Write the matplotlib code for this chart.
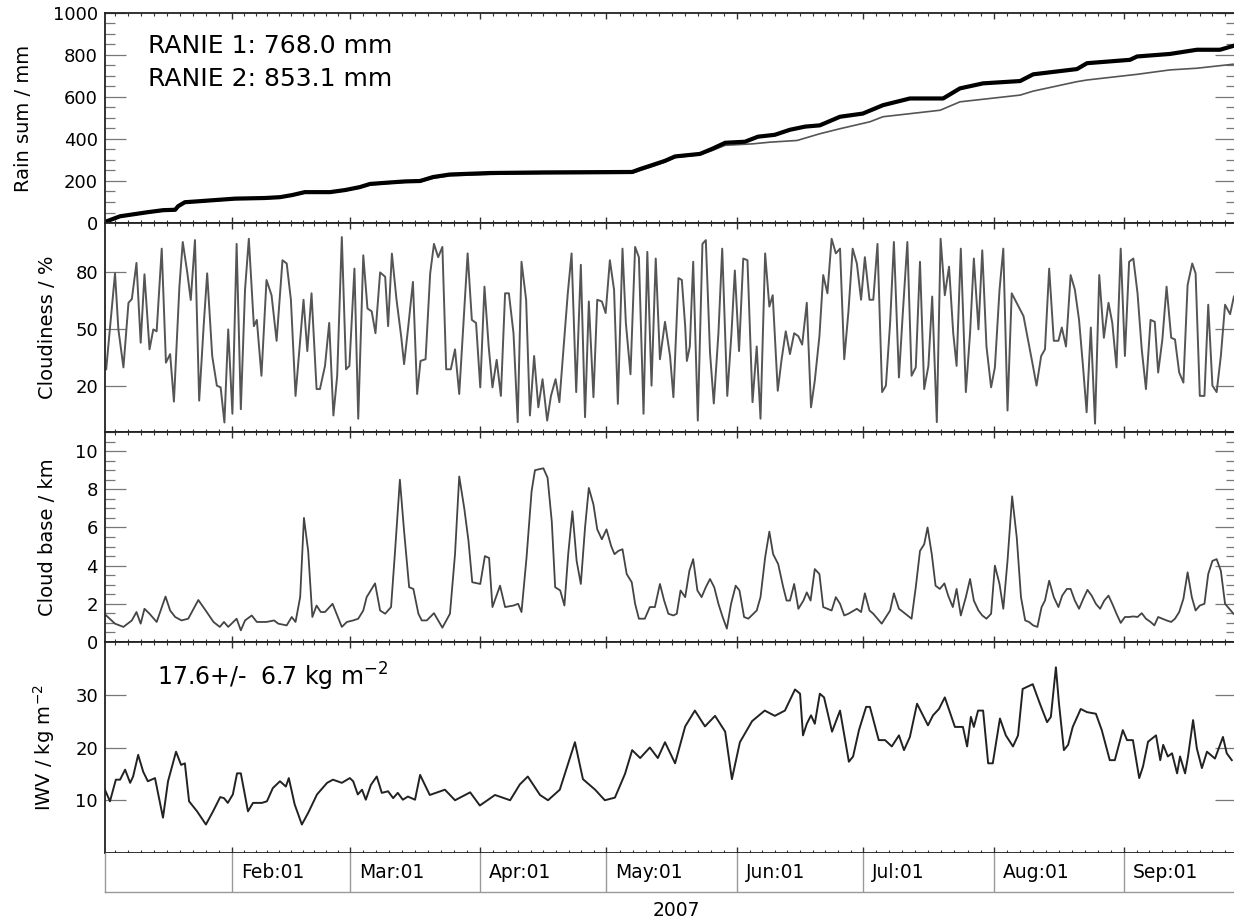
import numpy as np
import matplotlib
matplotlib.use('Agg')
from matplotlib import pyplot as plt
from matplotlib.ticker import MultipleLocator, FixedLocator, NullFormatter

# x positions are days since 2007-01-01 00:00
month_starts = [0, 31, 59, 90, 120, 151, 181, 212, 243, 273]
month_labels = ['Feb:01', 'Mar:01', 'Apr:01', 'May:01', 'Jun:01', 'Jul:01', 'Aug:01', 'Sep:01']
x_range = (0.82, 269.6)

# cumulative rain of the two gauges
rain1_days = [0.8, 4.4, 10.8, 14.6, 17.5, 18.2, 19.8, 23.4, 31.7, 38.8,
              42.4, 45.3, 48.3, 54.3, 57.9, 61.4, 63.8, 68.5, 72.1, 75.7,
              78.8, 82.8, 92.3, 105.4, 126.1, 128.0, 130.3, 133.9, 136.3, 142.2,
              145.1, 148.2, 154.8, 158.9, 165.3, 170.7, 175.5, 182.6, 185.7, 199.3,
              204.0, 218.3, 221.4, 231.8, 234.2, 246.1, 253.9, 260.3, 268.9]
rain1_sum = [5, 30, 48, 58, 60, 77, 96, 101, 113, 116,
             120, 130, 143, 144, 154, 167, 182, 189, 194, 196,
             213, 225, 232, 235, 237, 250, 265, 290, 312, 325,
             345, 370, 377, 385, 393, 425, 449, 482, 506, 537,
             577, 609, 628, 673, 681, 708, 729, 737, 756]
rain2_days = [0.8, 4.4, 10.8, 14.6, 17.5, 18.2, 19.8, 23.4, 31.7, 38.8,
              42.4, 45.3, 48.3, 54.3, 57.9, 61.4, 63.8, 68.5, 72.1, 75.7,
              78.8, 82.8, 92.3, 105.4, 126.1, 128.0, 130.3, 133.9, 136.3, 142.2,
              145.1, 148.2, 152.9, 156.0, 160.0, 163.6, 167.2, 170.7, 175.5, 180.9,
              185.7, 192.1, 200.0, 204.0, 209.5, 218.3, 221.4, 231.8, 234.2, 244.4,
              246.1, 253.9, 260.3, 265.8, 268.9]
rain2_sum = [5, 32, 51, 61, 63, 80, 99, 104, 116, 119,
             123, 133, 147, 147, 157, 171, 186, 193, 198, 200,
             219, 231, 238, 241, 243, 257, 272, 296, 317, 329,
             353, 382, 387, 411, 420, 444, 459, 465, 506, 521,
             561, 593, 593, 641, 665, 676, 708, 733, 761, 777,
             793, 805, 825, 825, 843]
rain_totals = [768.0, 853.1]

# daily cloudiness
cloud_days = [1.1, 3.2, 4.0, 5.2, 6.4, 7.2, 8.3, 9.3, 10.2, 11.4,
              12.3, 13.1, 14.3, 15.3, 16.3, 17.2, 18.5, 19.3, 20.4, 21.2,
              22.2, 23.2, 24.3, 25.1, 26.3, 27.4, 28.3, 29.2, 30.1, 31.1,
              32.1, 33.1, 34.1, 35.0, 36.2, 36.9, 38.0, 39.2, 40.4, 41.6,
              43.0, 44.0, 45.0, 46.1, 48.0, 48.9, 49.9, 51.1, 51.9, 53.1,
              54.1, 55.1, 56.0, 57.1, 58.1, 58.9, 60.1, 61.0, 62.2, 63.2,
              64.2, 65.1, 66.2, 67.4, 68.1,
              69.0, 70.1, 71.2, 71.9, 72.9, 74.0, 75.0, 75.8, 77.0, 78.1,
              79.0, 80.0, 81.0, 81.9, 83.0, 84.0, 85.0, 86.0, 87.0, 88.0,
              89.0, 90.0, 91.0, 92.0, 92.9, 93.9, 94.9, 95.9, 96.8, 97.9,
              98.9, 99.8, 100.9, 101.8, 102.8, 103.8, 104.8, 105.9, 106.8, 107.9,
              108.8, 109.7, 110.8, 111.7, 112.8, 113.9, 114.9, 115.8, 116.9, 117.8,
              118.9, 119.8, 120.8, 121.8, 122.7, 123.8, 124.6, 125.7, 126.8, 127.7,
              128.8, 129.7, 130.7, 131.7, 132.7, 133.9, 135.1,
              135.9, 137.1, 137.9, 138.7, 139.1, 139.8, 140.6, 141.7, 142.8, 143.6,
              144.6, 145.5, 146.6, 147.5, 148.7, 149.7, 150.5, 151.5, 152.5, 153.5,
              154.7, 155.7, 156.6, 157.7, 158.7, 159.5, 160.7, 161.6, 162.6, 163.6,
              164.6, 165.6, 166.5, 167.6, 168.6, 169.5, 170.6, 171.5, 172.5, 173.5,
              174.5, 175.5, 176.5, 177.5, 178.5, 179.5, 180.5, 181.4, 182.5, 183.4,
              184.4, 185.5, 186.4, 187.4, 188.3, 189.5, 190.4, 191.5, 192.5, 193.5,
              194.5, 195.5, 196.5, 197.4, 198.5, 199.4, 200.4, 201.4, 202.4,
              203.2, 204.2, 205.4, 206.4, 207.3, 208.4, 209.3, 210.3, 211.4, 212.3,
              213.4, 214.3, 215.3, 216.3, 219.1, 221.2, 222.2, 223.3, 224.2, 225.2,
              226.3, 227.4, 228.2, 229.2, 230.3, 231.3, 232.3, 233.3, 234.1, 235.1,
              236.1, 237.1, 238.2, 239.3, 240.2, 241.2, 242.2, 243.2, 244.2, 245.2,
              246.2, 247.2, 248.2, 249.3, 250.3, 251.1, 252.1, 253.1, 254.2, 255.1,
              256.1, 257.1, 258.1, 259.2, 260.0, 261.0, 262.1, 263.0, 264.0, 265.0,
              266.0, 267.0, 268.2, 269.1]
cloudiness = [29, 79.5, 50, 30, 64, 66, 85, 43, 79, 39.5,
              50, 49, 92.5, 32.5, 37, 12, 72.5, 96, 79.5, 65.5,
              97, 12.5, 53, 79.5, 36, 20.4, 19.5, 1, 50, 5.6,
              95, 8, 71, 97.7, 51.7, 55, 25.6, 76, 68, 44,
              86.4, 84.7, 65.6, 15, 65.6, 38.6, 69, 18.6, 18.6, 30.8,
              53.4, 4.7, 25.6, 98.6, 29, 30.8, 82, 3, 89, 61,
              59.5, 48, 80, 77.7, 51.7,
              89.9, 65.6, 46.4, 31.7, 51.7, 75, 16, 33.4, 34.3, 79.5,
              95, 88, 93.4, 29, 29, 39.5, 16, 53.4, 90, 55,
              53.4, 19.5, 72.5, 41, 19.5, 34, 15, 69, 69, 48,
              1.2, 85.6, 65.6, 4.7, 36, 9, 23.8, 2, 15, 23.8,
              11.7, 37.7, 69, 90, 17, 84, 3.8, 64.7, 14.3, 65.6,
              64.7, 58.6, 86.4, 70.8, 10.8, 92.5, 53.4, 26.4, 93.4, 88,
              5.6, 90.8, 20.4, 87.3, 34.3, 54, 36,
              14.3, 77, 76, 51.7, 33.4, 41, 85.6, 2, 95, 97,
              37.7, 11, 48, 92.5, 15, 48, 81, 38.6, 87.3, 86.4,
              11.7, 41, 3, 90, 62, 68, 17.7, 34, 49, 37,
              48, 46.4, 42, 64, 9, 23, 46.4, 78.6, 69, 97.7,
              90, 92.5, 34.3, 59.5, 92.5, 84.7, 65.6, 88, 65.6, 65.6,
              95, 17, 20.4, 53.4, 96, 24.7, 58, 96, 25.6, 30,
              85.6, 18.6, 30.8, 67.3, 1.2, 97.7, 68, 83, 48,
              30.8, 92.5, 17, 48, 87.3, 50, 91.6, 41, 19.5, 30,
              70.8, 92.5, 7.3, 69, 57, 32.5, 20.4, 36, 39.5, 82,
              44, 44, 51, 41, 78.6, 71, 55, 29, 6.4, 51,
              0.4, 78.6, 45.6, 64, 53.4, 30, 92.5, 36, 85.6, 87.3,
              69, 39.5, 18.6, 55, 54, 27.3, 44.7, 72.5, 45.6, 44.7,
              27.3, 22, 73.4, 84.7, 79.5, 15, 15, 63, 20.4, 17,
              36, 63, 58, 67.3]

# daily cloud base height
base_days = [1.1, 3.2, 5.2, 7.2, 8.3, 9.3, 10.2, 11.4, 13.1, 15.2,
             16.3, 17.5, 19.0, 20.6, 23.0, 25.0, 26.6, 28.1, 29.1, 30.1,
             32.1, 33.1, 34.1, 35.7, 36.9, 39.2, 41.0, 42.0, 44.0, 45.2,
             46.1, 47.2, 48.1, 49.1, 50.1, 51.1, 52.1, 53.1, 54.9, 56.0,
             57.1, 58.3, 59.8, 61.0, 62.2, 63.0, 65.0, 66.2, 67.4,
             68.8, 69.7, 70.9, 71.9, 73.1, 74.1, 75.3, 76.1, 77.3, 79.0,
             80.0, 81.0, 82.8, 84.0, 85.0, 86.2, 87.2, 88.1, 90.0, 91.1,
             92.1, 92.9, 94.7, 95.9, 97.9, 99.0, 99.8, 101.0, 102.2, 103.0,
             105.0, 106.0, 107.0, 107.8, 109.0, 110.0, 110.9, 111.9, 112.9, 113.9,
             114.9, 115.8, 116.9, 117.8, 118.9, 120.0, 121.1, 121.9, 122.8, 123.8,
             124.8, 126.0, 126.8, 127.7, 129.1, 130.3, 131.5, 132.7, 133.7, 134.7,
             135.9, 136.7, 137.6, 138.7, 139.7, 140.6, 141.6, 142.6, 143.6, 144.6,
             145.6, 146.6, 147.6, 148.6, 149.6, 150.7, 151.6, 152.7, 153.7, 155.7,
             156.6, 157.7, 158.7, 159.6, 160.8, 162.0, 162.8, 163.6, 164.6, 165.6,
             166.8, 167.6, 168.5, 169.5, 170.6, 171.5, 173.5, 174.5, 175.5, 176.5,
             177.5, 179.5, 180.5, 181.4, 182.5, 183.4, 185.4, 187.4, 188.3, 189.5,
             190.5, 192.5, 193.5, 194.5, 195.5, 196.3, 197.3, 198.2, 199.2, 200.3,
             201.2, 202.3,
             203.2, 204.2, 205.4, 206.4, 207.3, 208.4, 209.3, 210.3, 211.4, 212.3,
             213.4, 214.3, 215.3, 216.4, 217.5, 218.5, 219.5, 220.4, 221.4, 222.4,
             223.4, 224.2, 225.2, 226.3, 227.4, 228.3, 229.4, 230.3, 231.3, 232.3,
             233.3, 234.3, 235.3, 236.3, 237.3, 238.3, 239.3, 240.2, 241.2, 242.2,
             243.2, 244.2, 245.2, 246.2, 247.2, 248.2, 249.3, 250.2, 251.1, 252.1,
             253.1, 254.2, 255.1, 256.1, 257.1, 258.1, 259.1, 260.0, 261.0, 262.1,
             263.0, 264.0, 265.0, 266.0, 267.0, 268.0, 269.0]
cloud_base = [1.39, 0.96, 0.79, 1.13, 1.57, 0.96, 1.74, 1.48, 1.05, 2.38,
              1.65, 1.31, 1.13, 1.22, 2.2, 1.57, 1.05, 0.79, 1.05, 0.79,
              1.22, 0.61, 1.13, 1.39, 1.05, 1.05, 1.13, 0.96, 0.87, 1.31,
              1.05, 2.35, 6.5, 4.77, 1.31, 1.91, 1.57, 1.57, 2.0, 1.39,
              0.79, 1.05, 1.13, 1.22, 1.65, 2.35, 3.07, 1.65, 1.48,
              1.83, 4.6, 8.5, 5.8, 2.87, 2.78, 1.48, 1.13, 1.13, 1.51,
              1.13, 0.75, 1.48, 4.6, 8.67, 7.0, 5.3, 3.13, 3.04, 4.5,
              4.4, 1.83, 2.95, 1.83, 1.91, 2.0, 1.57, 4.43, 7.9, 9.0,
              9.1, 8.6, 6.3, 2.87, 2.7, 1.91, 4.6, 6.85, 4.25, 3.04,
              6.0, 8.07, 7.2, 5.9, 5.38, 5.9, 5.03, 4.6, 4.77, 4.86,
              3.56, 3.13, 2.0, 1.22, 1.22, 1.83, 1.83, 3.04, 2.17, 1.48,
              1.39, 1.48, 2.7, 2.35, 3.73, 4.34, 2.7, 2.35, 2.87, 3.3,
              2.87, 2.0, 1.31, 0.7, 2.0, 2.95, 2.7, 1.31, 1.22, 1.65,
              2.35, 4.43, 5.78, 4.6, 4.08, 2.87, 2.17, 2.17, 3.04, 1.74,
              2.17, 2.6, 2.17, 3.82, 3.56, 1.83, 1.65, 2.35, 2.0, 1.39,
              1.48, 1.74, 1.57, 2.55, 1.65, 1.48, 0.96, 1.65, 2.55, 1.74,
              1.57, 1.22, 2.87, 4.77, 5.12, 6.0, 4.6, 2.95, 2.78, 3.07,
              2.43, 1.83,
              2.78, 1.39, 2.35, 3.3, 2.17, 1.65, 1.39, 1.22, 1.48, 4.0,
              3.04, 1.74, 4.25, 7.63, 5.47, 2.35, 1.13, 1.05, 0.87, 0.79,
              1.83, 2.17, 3.21, 2.35, 1.83, 2.43, 2.78, 2.78, 2.17, 1.74,
              2.26, 2.73, 2.43, 2.0, 1.74, 2.17, 2.43, 2.0, 1.48, 1.0,
              1.31, 1.31, 1.34, 1.31, 1.51, 1.22, 1.05, 0.87, 1.31, 1.22,
              1.13, 1.05, 1.22, 1.57, 2.26, 3.65, 2.35, 1.65, 1.91, 2.0,
              3.56, 4.25, 4.34, 3.73, 2.0, 1.74, 1.48]

# integrated water vapour
iwv_days = [0.8, 2.0, 3.4, 4.4, 5.6, 6.8, 7.5, 8.7, 9.9, 11.0,
            12.7, 14.6, 15.8, 17.7, 18.9, 19.8, 20.8, 22.7, 24.8, 26.5,
            28.2, 29.1, 30.0, 31.2, 32.2, 33.1, 34.8, 36.0, 38.1, 39.3,
            40.7, 42.4, 43.8, 44.5, 45.9, 47.6, 49.1, 51.2, 53.6, 55.0,
            57.1, 59.0, 59.8, 60.9, 61.9, 62.8, 64.0, 65.4, 66.6, 68.1,
            69.3, 70.4, 71.6, 72.8, 74.5, 75.7,
            78.0, 81.6, 84.0, 87.6, 89.9, 93.5, 97.1, 99.4, 101.3, 104.2,
            106.1, 108.9, 112.5, 114.4, 117.3, 119.6, 122.0, 124.4, 126.1, 128.0,
            130.3, 132.2, 133.9, 136.3, 138.7, 141.0, 143.4, 145.8, 148.2, 149.8,
            151.7, 154.6, 157.6, 160.0, 162.4, 164.8,
            166.0, 166.7, 167.6, 168.6, 169.5, 170.7, 171.7, 173.6, 175.5, 177.6,
            178.6, 180.0, 181.7, 182.6, 184.7, 186.2, 187.8, 189.5, 190.7, 192.1,
            193.8, 195.2, 196.4, 197.6, 199.0, 200.4, 202.8, 204.7, 205.7, 206.6,
            207.3, 208.3, 209.5, 210.7, 211.8, 213.5, 214.9, 216.6, 217.8, 218.9,
            221.3, 223.0, 224.7, 225.6, 226.8, 227.5, 228.7, 229.7, 230.8, 232.7,
            234.2, 236.3, 237.7, 239.6, 240.8, 242.7, 243.7, 245.1, 246.6, 247.5,
            248.7, 250.6, 251.6, 252.3, 253.4, 254.4, 255.6, 256.3, 257.5, 258.2,
            259.4, 260.3, 261.5, 262.7, 264.6, 266.5, 267.4, 268.6]
iwv = [12.0, 9.8, 13.9, 13.9, 15.8, 13.3, 14.5, 18.6, 15.4, 13.6,
       14.2, 6.7, 13.6, 19.2, 16.7, 17.0, 9.8, 7.9, 5.4, 7.9,
       10.6, 10.4, 9.5, 11.1, 15.1, 15.1, 7.9, 9.5, 9.5, 9.8,
       12.3, 13.6, 12.6, 14.2, 9.2, 5.4, 7.6, 11.1, 13.3, 13.9,
       13.3, 14.2, 13.6, 11.1, 12.0, 10.1, 12.9, 14.5, 11.4, 11.7,
       10.4, 11.4, 10.1, 10.7, 10.1, 14.8,
       11, 12, 10, 11.5, 9, 11, 10, 13, 14.5, 11,
       10, 12, 21, 14, 12, 10, 10.5, 15, 19.5, 18,
       20, 18, 21, 17, 24, 27, 24, 26, 23, 14,
       21, 25, 27, 26, 27, 31,
       30.2, 22.3, 24.5, 26.1, 24.5, 30.2, 29.5, 23.0, 27.0, 17.3,
       18.3, 23.3, 27.7, 27.7, 21.4, 21.4, 20.2, 22.3, 19.5, 22.0,
       28.3, 26.1, 24.2, 26.1, 27.3, 29.5, 23.9, 23.9, 20.2, 25.8,
       23.9, 27.0, 27.0, 17.0, 17.0, 25.5, 22.3, 20.2, 22.3, 31.1,
       32.0, 28.3, 24.8, 25.8, 35.2, 28.6, 19.5, 20.5, 23.9, 27.3,
       26.7, 26.4, 23.3, 17.6, 17.6, 23.3, 21.4, 21.4, 14.2, 16.4,
       21.1, 22.3, 17.6, 20.5, 18.3, 18.9, 15.1, 18.3, 15.1, 18.3,
       25.2, 19.8, 16.1, 19.2, 17.9, 22.0, 18.9, 17.6]
iwv_mean, iwv_std = 17.6, 6.7

W, H = 1234, 922
fig = plt.figure(figsize=(W / 100, H / 100), dpi=100)


def px_axes(top, bottom, left=105, right=1236):
    return fig.add_axes([left / W, 1 - bottom / H, (right - left) / W, (bottom - top) / H])


# x minor ticks: ten steps per month
minor_x = []
for a, b in zip(month_starts[:-1], month_starts[1:]):
    minor_x.extend(np.linspace(a, b, 11)[1:-1])

axes = [px_axes(13, 223), px_axes(223, 432), px_axes(432, 642), px_axes(642, 853)]
for ax in axes:
    ax.set_xlim(*x_range)
    ax.xaxis.set_major_locator(FixedLocator(month_starts))
    ax.xaxis.set_minor_locator(FixedLocator(minor_x))
    ax.xaxis.set_major_formatter(NullFormatter())
    ax.tick_params(axis='x', which='major', direction='in', top=True, bottom=True,
                   length=4.5, width=1, color='#333333')
    ax.tick_params(axis='x', which='minor', direction='in', top=True, bottom=True,
                   length=2.5, width=0.8, color='#333333')
    ax.tick_params(axis='y', which='major', direction='in', left=True, right=True,
                   length=15, width=0.9, color='#777777', labelsize=13, pad=5)
    ax.tick_params(axis='y', which='minor', direction='in', left=True, right=True,
                   length=7.5, width=0.9, color='#777777')
    for s in ax.spines.values():
        s.set_linewidth(1.3)
        s.set_color('#222222')

ax1, ax2, ax3, ax4 = axes

ax1.plot(rain1_days, rain1_sum, color='#555555', lw=1.2)
ax1.plot(rain2_days, rain2_sum, color='black', lw=3)
ax1.set_ylim(0, 1000)
ax1.yaxis.set_major_locator(MultipleLocator(200))
ax1.yaxis.set_minor_locator(MultipleLocator(50))
ax1.set_ylabel('Rain sum / mm', fontsize=14)
ax1.yaxis.set_label_coords(-0.064, 0.5)
ax1.text(0.038, 0.845, 'RANIE 1: %.1f mm' % rain_totals[0], transform=ax1.transAxes,
         fontsize=18, va='center', ha='left')
ax1.text(0.038, 0.686, 'RANIE 2: %.1f mm' % rain_totals[1], transform=ax1.transAxes,
         fontsize=18, va='center', ha='left')

ax2.plot(cloud_days, cloudiness, color='#555555', lw=1.4)
ax2.set_ylim(-4, 106)
ax2.yaxis.set_major_locator(FixedLocator([20, 50, 80]))
ax2.set_ylabel('Cloudiness / %', fontsize=14)
ax2.yaxis.set_label_coords(-0.0425, 0.5)

ax3.plot(base_days, cloud_base, color='#444444', lw=1.3)
ax3.set_ylim(0, 11)
ax3.yaxis.set_major_locator(MultipleLocator(2))
ax3.yaxis.set_minor_locator(MultipleLocator(0.5))
ax3.set_ylabel('Cloud base / km', fontsize=14)
ax3.yaxis.set_label_coords(-0.0425, 0.5)

ax4.plot(iwv_days, iwv, color='#222222', lw=1.4)
ax4.set_ylim(0, 40)
ax4.yaxis.set_major_locator(FixedLocator([10, 20, 30]))
ax4.set_ylabel('IWV / kg m$^{-2}$', fontsize=14)
ax4.yaxis.set_label_coords(-0.0425, 0.5)
ax4.text(0.046, 0.834, '%.1f+/- %4.1f kg m$^{-2}$' % (iwv_mean, iwv_std),
         transform=ax4.transAxes, fontsize=17, va='center', ha='left')

# date label strip below the last panel
strip = px_axes(853, 892)
strip.set_xlim(*x_range)
strip.set_ylim(0, 1)
strip.set_xticks([])
strip.set_yticks([])
strip.spines['top'].set_visible(False)
for side in ('left', 'right', 'bottom'):
    strip.spines[side].set_color('#999999')
    strip.spines[side].set_linewidth(1)
for d, lab in zip(month_starts[1:-1], month_labels):
    strip.axvline(d, color='#999999', lw=1)
    strip.annotate(lab, (d, 0.5), xycoords=('data', 'axes fraction'),
                   xytext=(6.5, 0), textcoords='offset points',
                   ha='left', va='center', fontsize=13.5)

fig.text(676 / W, 1 - 910 / H, '2007', ha='center', va='center', fontsize=13.5)

fig.savefig('out.png', dpi=100)
